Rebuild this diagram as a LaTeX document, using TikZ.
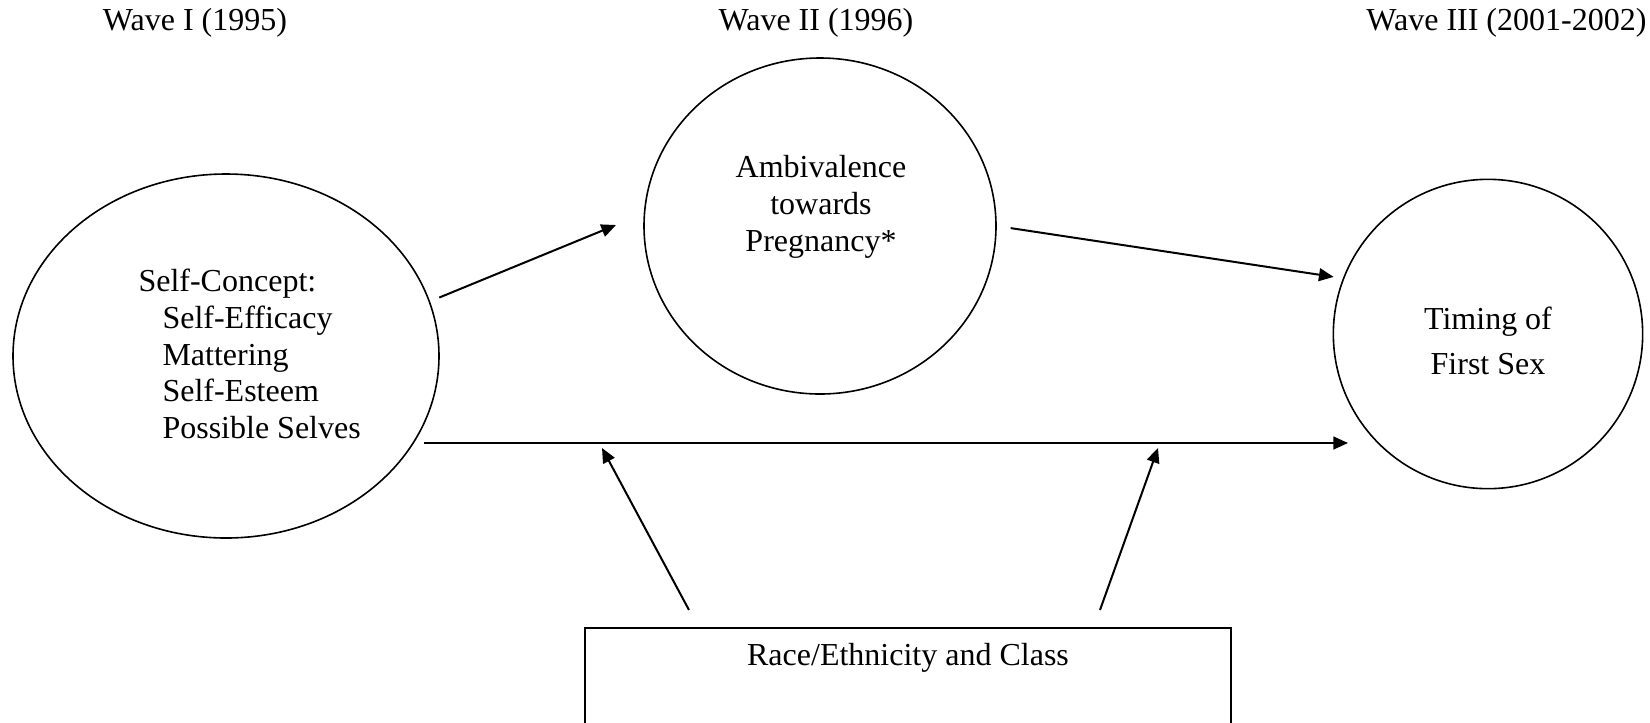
\documentclass[tikz,border=0pt]{standalone}
\usepackage{fontspec}
\setmainfont{Liberation Serif}
\usetikzlibrary{shapes.geometric,arrows.meta}

\begin{document}
\begin{tikzpicture}[x=0.375pt,y=-0.375pt,
    every node/.style={font=\fontsize{12}{13.8}\selectfont},
    oval/.style={draw,ellipse,line width=0.6pt,inner sep=0pt},
    arr/.style={-{Triangle[length=5.5pt,width=4.8pt]},line width=0.75pt}]
    \useasboundingbox (0,0) rectangle (1650,722);
    \clip (0,0) rectangle (1650,722);
    % waves
    \node (wone) at (195,23) {Wave I (1995)};
    \node (wtwo) at (816,23) {Wave II (1996)};
    \node[anchor=east,inner sep=0pt] (wthree) at (1647,23) {Wave III (2001-2002)};
    % constructs
    \node[oval,minimum width=159.75pt,minimum height=136.5pt] (selfc) at (226,356) {};
    \node[oval,minimum width=132pt,minimum height=126pt] (ambiv) at (820,226) {};
    \node[oval,minimum width=116pt,minimum height=116pt] (timing) at (1488,334) {};
    \node[align=left,inner sep=0pt,anchor=west] (selfctext) at (138,354)
        {Self-Concept:\\ \hspace*{9pt}Self-Efficacy\\ \hspace*{9pt}Mattering\\
         \hspace*{9pt}Self-Esteem\\ \hspace*{9pt}Possible Selves};
    \node[align=center,inner sep=0pt] (ambivtext) at (821,207) {Ambivalence\\towards\\Pregnancy*};
    \node[align=center,inner sep=0pt] (timingtext) at (1488,341) {Timing of\\[2.8pt]First Sex};
    \node[draw,line width=0.75pt,anchor=north,minimum width=242.25pt,minimum height=60pt] (race) at (908,627) {};
    \node (racetext) at (908,658) {Race/Ethnicity and Class};
    % paths
    \coordinate (aend) at (616,225);
    \coordinate (hstart) at (424,443);
    \coordinate (hend) at (1348,443);
    \coordinate (rone) at (689,610);
    \coordinate (mone) at (602,448);
    \coordinate (rtwo) at (1100,610);
    \coordinate (mtwo) at (1158,448);
    \draw[arr,shorten <=3.75pt] (selfc.15) -- (aend);
    \draw[arr,shorten <=5.25pt,shorten >=3.5pt] (ambiv.east) -- (timing.159);
    \draw[arr] (hstart) -- (hend);
    \draw[arr] (rone) -- (mone);
    \draw[arr] (rtwo) -- (mtwo);
\end{tikzpicture}
\end{document}
